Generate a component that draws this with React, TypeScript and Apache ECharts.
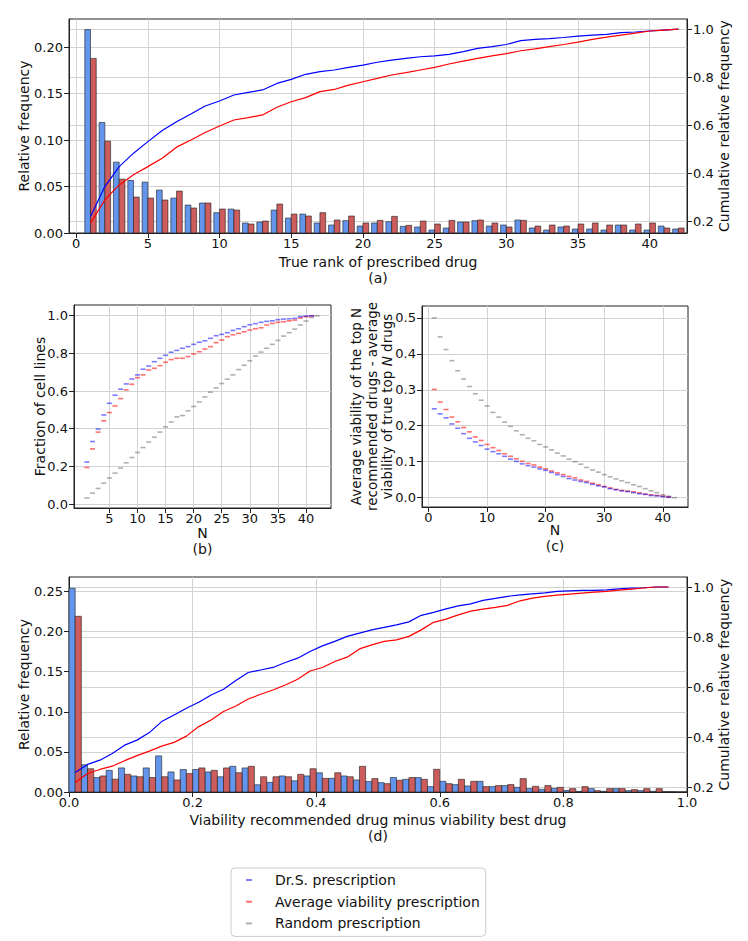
import React, { useEffect, useRef } from 'react';
import * as echarts from 'echarts';

// ---------- Panel (a): true rank of prescribed drug ----------
const aRanks = [1,2,3,4,5,6,7,8,9,10,11,12,13,14,15,16,17,18,19,20,21,22,23,24,25,26,27,28,29,30,31,32,33,34,35,36,37,38,39,40,41,42];
const aBlue = [0.219,0.119,0.0763,0.0566,0.0548,0.0462,0.0376,0.0301,0.0323,0.0219,0.0258,0.0108,0.0118,0.0247,0.0161,0.0204,0.0108,0.0086,0.0133,0.0075,0.0108,0.0122,0.0072,0.0065,0.0032,0.0054,0.0118,0.0133,0.0075,0.0086,0.014,0.0054,0.0032,0.0065,0.0043,0.0043,0.0032,0.0086,0.0032,0.0032,0.0075,0.0043];
const aRed = [0.188,0.0989,0.058,0.0387,0.0376,0.0355,0.0452,0.0269,0.0323,0.0258,0.0247,0.0097,0.0129,0.0312,0.0204,0.0183,0.0219,0.014,0.0183,0.0108,0.0136,0.0179,0.0082,0.0129,0.0097,0.0136,0.0118,0.014,0.0108,0.0065,0.0136,0.0075,0.0086,0.0075,0.0097,0.0108,0.0086,0.0086,0.0097,0.0108,0.0054,0.0054];
const aCumBlue = [0.221,0.345,0.428,0.484,0.532,0.578,0.615,0.647,0.68,0.701,0.726,0.737,0.747,0.774,0.791,0.812,0.823,0.83,0.841,0.85,0.862,0.871,0.878,0.885,0.889,0.895,0.906,0.92,0.927,0.936,0.952,0.957,0.96,0.965,0.971,0.975,0.978,0.985,0.988,0.992,0.996,1.0];
const aCumRed = [0.193,0.29,0.352,0.394,0.428,0.463,0.509,0.539,0.57,0.597,0.622,0.632,0.643,0.675,0.698,0.715,0.74,0.749,0.767,0.781,0.795,0.809,0.819,0.83,0.841,0.855,0.867,0.878,0.889,0.898,0.91,0.918,0.927,0.936,0.946,0.957,0.967,0.975,0.983,0.992,0.996,1.0];

// ---------- Panel (b): fraction of cell lines ----------
const bN = aRanks;
const bBlue = [0.223,0.332,0.398,0.473,0.535,0.578,0.61,0.638,0.664,0.686,0.716,0.733,0.756,0.774,0.79,0.806,0.816,0.827,0.836,0.848,0.859,0.867,0.88,0.894,0.901,0.91,0.922,0.931,0.942,0.952,0.958,0.965,0.97,0.973,0.979,0.982,0.984,0.986,0.995,0.998,1.0];
const bRed = [0.194,0.293,0.382,0.442,0.486,0.521,0.56,0.606,0.636,0.671,0.686,0.712,0.721,0.735,0.753,0.767,0.774,0.774,0.783,0.797,0.809,0.823,0.836,0.857,0.871,0.889,0.899,0.906,0.915,0.924,0.931,0.936,0.951,0.959,0.965,0.968,0.973,0.977,0.988,0.995,0.998];
const bGray = [0.032,0.058,0.083,0.111,0.138,0.164,0.191,0.219,0.247,0.274,0.3,0.329,0.355,0.382,0.41,0.436,0.463,0.47,0.495,0.518,0.542,0.569,0.594,0.617,0.64,0.663,0.686,0.714,0.737,0.761,0.786,0.807,0.827,0.848,0.869,0.892,0.91,0.929,0.951,0.972,0.991,1.0];

// ---------- Panel (c): viability difference of top N ----------
const cN = aRanks;
const cBlue = [0.247,0.233,0.222,0.205,0.193,0.178,0.165,0.155,0.145,0.135,0.128,0.122,0.115,0.107,0.101,0.094,0.089,0.085,0.08,0.076,0.07,0.064,0.059,0.053,0.049,0.045,0.042,0.037,0.033,0.03,0.025,0.022,0.019,0.017,0.014,0.011,0.009,0.006,0.005,0.003,0.001];
const cRed = [0.301,0.266,0.245,0.224,0.211,0.195,0.183,0.169,0.159,0.148,0.139,0.131,0.122,0.115,0.108,0.101,0.095,0.091,0.085,0.08,0.074,0.069,0.064,0.059,0.055,0.049,0.045,0.04,0.036,0.031,0.027,0.023,0.02,0.018,0.016,0.013,0.01,0.008,0.006,0.004,0.002];
const cGray = [0.5,0.447,0.412,0.381,0.353,0.33,0.309,0.289,0.271,0.255,0.237,0.224,0.21,0.198,0.186,0.175,0.165,0.158,0.148,0.141,0.133,0.124,0.116,0.107,0.1,0.093,0.084,0.077,0.071,0.064,0.058,0.052,0.047,0.042,0.036,0.031,0.025,0.019,0.014,0.008,0.004,0.0];

// ---------- Panel (d): viability recommended minus best ----------
const dBinWidth = 0.02;
const dBlue = [0.254,0.034,0.018,0.027,0.03,0.02,0.03,0.045,0.025,0.028,0.028,0.025,0.019,0.032,0.03,0.009,0.012,0.02,0.014,0.02,0.024,0.017,0.02,0.015,0.013,0.0117,0.018,0.0158,0.018,0.0067,0.0133,0.0092,0.0075,0.0133,0.0067,0.008,0.0058,0.0042,0.0033,0.0046,0.002,0.0008,0.0042,0.0008,0.0042,0.0017,0.0017,0.0008,0.0004,0];
const dRed = [0.219,0.029,0.02,0.016,0.022,0.019,0.018,0.019,0.015,0.023,0.03,0.027,0.03,0.024,0.032,0.019,0.019,0.019,0.022,0.029,0.017,0.024,0.019,0.032,0.0167,0.0104,0.0146,0.018,0.0158,0.0283,0.0104,0.0158,0.0133,0.0067,0.008,0.0092,0.0167,0.0071,0.008,0.0058,0.0042,0.0067,0.0017,0.0042,0.0042,0.003,0.0042,0.0042,0.0004,0];
const dCenters = [0.01,0.03,0.05,0.07,0.09,0.11,0.13,0.15,0.17,0.19,0.21,0.23,0.25,0.27,0.29,0.31,0.33,0.35,0.37,0.39,0.41,0.43,0.45,0.47,0.49,0.51,0.53,0.55,0.57,0.59,0.61,0.63,0.65,0.67,0.69,0.71,0.73,0.75,0.77,0.79,0.81,0.83,0.85,0.87,0.89,0.91,0.93,0.95,0.97];
const dCumBlue = [0.26,0.292,0.309,0.336,0.369,0.389,0.419,0.463,0.489,0.516,0.54,0.569,0.592,0.627,0.659,0.669,0.679,0.699,0.716,0.743,0.765,0.783,0.803,0.816,0.829,0.839,0.849,0.861,0.887,0.899,0.913,0.925,0.933,0.947,0.955,0.963,0.969,0.973,0.977,0.983,0.985,0.987,0.987,0.989,0.993,0.996,0.997,1.0,1.0];
const dCumRed = [0.22,0.256,0.272,0.285,0.307,0.327,0.345,0.365,0.38,0.405,0.443,0.469,0.503,0.525,0.553,0.572,0.589,0.609,0.632,0.665,0.679,0.703,0.72,0.753,0.769,0.783,0.789,0.803,0.829,0.859,0.872,0.889,0.904,0.912,0.919,0.927,0.945,0.956,0.963,0.968,0.972,0.976,0.98,0.983,0.988,0.992,0.996,1.0,1.0];

// ---------- Tick labels ----------
const aXTicks = [0,5,10,15,20,25,30,35,40];
const aYTicks = [0,0.05,0.1,0.15,0.2];
const cumTicks = [0.2,0.4,0.6,0.8,1.0];
const bXTicks = [5,10,15,20,25,30,35,40];
const bYTicks = [0,0.2,0.4,0.6,0.8,1.0];
const cXTicks = [0,10,20,30,40];
const cYTicks = [0,0.1,0.2,0.3,0.4,0.5];
const dXTicks = [0,0.2,0.4,0.6,0.8,1.0];
const dYTicks = [0,0.05,0.1,0.15,0.2,0.25];

const legendNames = ['Dr.S. prescription','Average viability prescription','Random prescription'];

const FONT = 'DejaVu Sans';
const INK = '#222';
const BAR_BLUE = '#6495ED';
const BAR_RED = '#CD5C5C';
const EDGE = 'rgba(30,30,30,0.75)';
const DASH_BLUE = 'rgba(0,0,255,0.65)';
const DASH_RED = 'rgba(255,0,0,0.7)';
const DASH_GRAY = 'rgba(90,90,90,0.6)';

function axis(gridIndex: number, min: number, max: number, ticks: number[], digits: number, horizontal: boolean, extra: any = {}) {
  return {
    type: 'value',
    gridIndex,
    min,
    max,
    nameMoveOverlap: false,
    axisLine: { show: true, onZero: false, lineStyle: { color: INK, width: 1 } },
    axisTick: { show: true, length: 5, customValues: ticks, lineStyle: { color: INK, width: 1 } },
    axisLabel: {
      customValues: ticks,
      formatter: (v: number) => v.toFixed(digits),
      fontSize: 13,
      color: '#111',
      fontFamily: FONT,
      margin: horizontal ? 4 : 6,
    },
    splitLine: { show: true, lineStyle: { color: '#d2d2d2', width: 1 } },
    nameTextStyle: { fontSize: 14, color: '#111', fontFamily: FONT, lineHeight: 16 },
    ...extra,
  };
}

function bars(xi: number, yi: number, xs: number[], vs: number[], o0: number, o1: number, fill: string) {
  return {
    type: 'custom',
    xAxisIndex: xi,
    yAxisIndex: yi,
    data: xs.map((x, i) => [x, vs[i]]),
    encode: { x: 0, y: 1 },
    z: 2,
    silent: true,
    renderItem: (_p: any, api: any) => {
      const x = api.value(0);
      const v = api.value(1);
      const tl = api.coord([x + o0, v]);
      const br = api.coord([x + o1, 0]);
      return {
        type: 'rect',
        shape: { x: tl[0], y: tl[1], width: br[0] - tl[0], height: br[1] - tl[1] },
        style: { fill, stroke: EDGE, lineWidth: 0.8 },
      };
    },
  };
}

function line(xi: number, yi: number, xs: number[], vs: number[], color: string) {
  return {
    type: 'line',
    xAxisIndex: xi,
    yAxisIndex: yi,
    data: xs.map((x, i) => [x, vs[i]]),
    showSymbol: false,
    symbol: 'none',
    z: 3,
    silent: true,
    lineStyle: { color, width: 1.2 },
  };
}

function dashes(xi: number, yi: number, xs: number[], vs: number[], color: string, name: string) {
  return {
    type: 'scatter',
    name,
    xAxisIndex: xi,
    yAxisIndex: yi,
    data: vs.map((v, i) => [xs[i], v]),
    symbol: 'rect',
    symbolSize: [5, 1.6],
    itemStyle: { color },
    silent: true,
    z: 3,
  };
}

export default function App() {
  const ref = useRef<HTMLDivElement>(null);
  useEffect(() => {
    if (!ref.current) return;
    const chart = echarts.init(ref.current, null, { renderer: 'svg' });
    const dBinStarts = dBlue.map((_, k) => +(k * dBinWidth).toFixed(2));
    const option: any = {
      animation: false,
      textStyle: { fontFamily: FONT },
      grid: [
        { left: 69, top: 19, width: 618, height: 214, show: true, borderColor: INK, borderWidth: 1 },
        { left: 74, top: 305, width: 257, height: 203, show: true, borderColor: INK, borderWidth: 1 },
        { left: 422, top: 306, width: 266, height: 201, show: true, borderColor: INK, borderWidth: 1 },
        { left: 69, top: 577, width: 618, height: 215, show: true, borderColor: INK, borderWidth: 1 },
      ],
      xAxis: [
        axis(0, -0.5, 42.6, aXTicks, 0, true, { name: 'True rank of prescribed drug\n(a)', nameLocation: 'middle', nameGap: 21 }),
        axis(1, -1.3, 44.45, bXTicks, 0, true, { name: 'N\n(b)', nameLocation: 'middle', nameGap: 17 }),
        axis(2, -1.1, 44.3, cXTicks, 0, true, { name: 'N\n(c)', nameLocation: 'middle', nameGap: 15 }),
        axis(3, 0, 1, dXTicks, 1, true, { name: 'Viability recommended drug minus viability best drug\n(d)', nameLocation: 'middle', nameGap: 20 }),
      ],
      yAxis: [
        axis(0, 0, 0.2304, aYTicks, 2, false, { name: 'Relative frequency', nameLocation: 'middle', nameGap: 37 }),
        axis(0, 0.152, 1.042, cumTicks, 1, false, { position: 'right', name: 'Cumulative relative frequency', nameLocation: 'middle', nameGap: 28.5 }),
        axis(1, -0.021, 1.057, bYTicks, 1, false, { name: 'Fraction of cell lines', nameLocation: 'middle', nameGap: 26 }),
        axis(2, -0.026, 0.533, cYTicks, 1, false, {
          name: 'Average viability of the top N\nrecommended drugs - average\nviability of true top {i|N} drugs',
          nameLocation: 'middle',
          nameGap: 27,
          nameTextStyle: {
            fontSize: 13.5, color: '#111', fontFamily: FONT, lineHeight: 15.5,
            rich: { i: { fontStyle: 'italic', fontSize: 13.5, fontFamily: FONT, color: '#111', lineHeight: 15.5 } },
          },
        }),
        axis(3, 0, 0.268, dYTicks, 2, false, { name: 'Relative frequency', nameLocation: 'middle', nameGap: 37 }),
        axis(3, 0.182, 1.04, cumTicks, 1, false, { position: 'right', name: 'Cumulative relative frequency', nameLocation: 'middle', nameGap: 28.5 }),
      ],
      legend: {
        data: legendNames.map((name) => ({ name, icon: 'rect' })),
        orient: 'vertical',
        left: 231,
        top: 868,
        itemWidth: 6,
        itemHeight: 2,
        itemGap: 5.7,
        padding: [4, 6, 5, 15],
        backgroundColor: '#fff',
        borderColor: '#cccccc',
        borderWidth: 1,
        borderRadius: 4,
        selectedMode: false,
        textStyle: { fontSize: 14, color: '#111', fontFamily: FONT, lineHeight: 16, padding: [0, 0, 0, 18] },
      },
      series: [
        bars(0, 0, aRanks, aBlue, -0.4, 0, BAR_BLUE),
        bars(0, 0, aRanks, aRed, 0, 0.4, BAR_RED),
        line(0, 1, aRanks, aCumBlue, '#0000ff'),
        line(0, 1, aRanks, aCumRed, '#ff0000'),

        dashes(1, 2, bN, bGray, DASH_GRAY, legendNames[2]),
        dashes(1, 2, bN, bRed, DASH_RED, legendNames[1]),
        dashes(1, 2, bN, bBlue, DASH_BLUE, legendNames[0]),

        dashes(2, 3, cN, cGray, DASH_GRAY, legendNames[2]),
        dashes(2, 3, cN, cRed, DASH_RED, legendNames[1]),
        dashes(2, 3, cN, cBlue, DASH_BLUE, legendNames[0]),

        bars(3, 4, dBinStarts, dBlue, 0, dBinWidth / 2, BAR_BLUE),
        bars(3, 4, dBinStarts, dRed, dBinWidth / 2, dBinWidth, BAR_RED),
        line(3, 5, dCenters, dCumBlue, '#0000ff'),
        line(3, 5, dCenters, dCumRed, '#ff0000'),
      ],
    };
    chart.setOption(option);
    return () => chart.dispose();
  }, []);
  return <div ref={ref} style={{ position: 'absolute', left: 0, top: 0, width: 748, height: 941 }} />;
}
